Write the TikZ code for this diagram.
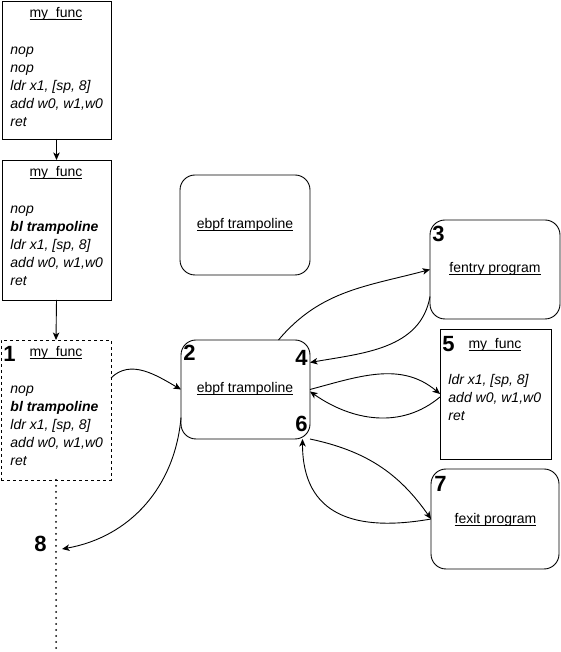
\documentclass[tikz,border=0pt]{standalone}
\usepackage{fontspec}
\setmainfont{Liberation Sans}
\usetikzlibrary{arrows.meta}
\newcommand\myul[1]{\setbox0\hbox{#1}\rlap{\rule[-2.2pt]{\wd0}{0.75pt}}\box0}
\begin{document}
\begin{tikzpicture}[x=1pt,y=1pt,line width=0.9pt,
  sqbox/.style={draw,inner sep=0,outer sep=0},
  rbox/.style={draw,rounded corners=15pt,inner sep=0,outer sep=0},
  txt/.style={font=\fontsize{14}{18}\selectfont,inner sep=0},
  code/.style={font=\fontsize{14}{18}\selectfont\itshape,inner sep=0,align=left,anchor=north west},
  num/.style={font=\fontsize{22}{26}\selectfont\bfseries,inner sep=0},
  arr/.style={-{Stealth[length=7.5pt,width=6.5pt,inset=2pt]}},
  dotline/.style={line width=2pt,line cap=round,dash pattern=on 0pt off 6pt}]
\useasboundingbox (0,0) rectangle (561,652);
% boxes
\node[sqbox,minimum width=109pt,minimum height=138pt] (A) at (56.5,582) {};
\node[sqbox,minimum width=109pt,minimum height=140pt] (B) at (56.5,422) {};
\node[sqbox,dash pattern=on 3pt off 3pt,minimum width=110pt,minimum height=140pt] (C) at (56,242) {};
\node[rbox,minimum width=130pt,minimum height=100pt] (E0) at (245,427) {};
\node[rbox,minimum width=129pt,minimum height=99pt] (E2) at (245.5,262.5) {};
\node[rbox,minimum width=130pt,minimum height=99pt] (F) at (495,382.5) {};
\node[sqbox,minimum width=111pt,minimum height=130pt] (M5) at (495.5,258) {};
\node[rbox,minimum width=128pt,minimum height=100pt] (X) at (495,133) {};
% texts
\node[txt,anchor=base] (tA) at (56,634.5) {\myul{my\_func}};
\node[code] (cA) at (10,610.6) {\strut nop\\nop\\ldr x1, [sp, 8]\\add w0, w1,w0\\ret};
\node[txt,anchor=base] (tB) at (56,475.5) {\myul{my\_func}};
\node[code] (cB) at (10,451.6) {\strut nop\\\textbf{bl trampoline}\\ldr x1, [sp, 8]\\add w0, w1,w0\\ret};
\node[txt,anchor=base] (tC) at (56,295) {\myul{my\_func}};
\node[code] (cC) at (10,271.6) {\strut nop\\\textbf{bl trampoline}\\ldr x1, [sp, 8]\\add w0, w1,w0\\ret};
\node[txt,anchor=base] (tM) at (495,303) {\myul{my\_func}};
\node[code] (cM) at (448,280.6) {\strut ldr x1, [sp, 8]\\add w0, w1,w0\\ret};
\node[txt,anchor=base] (tE0) at (245,423) {\myul{ebpf trampoline}};
\node[txt,anchor=base] (tE2) at (245,259) {\myul{ebpf trampoline}};
\node[txt,anchor=base] (tF) at (495,379) {\myul{fentry program}};
\node[txt,anchor=base] (tX) at (495.5,128) {\myul{fexit program}};
% numbers
\node[num,anchor=base west] (n1) at (3,290) {1};
\node[num,anchor=base west] (n2) at (183,291) {2};
\node[num,anchor=base east] (n4) at (308,286) {4};
\node[num,anchor=base east] (n6) at (308,220) {6};
\node[num,anchor=base west] (n3) at (432,410) {3};
\node[num,anchor=base west] (n5) at (442,300) {5};
\node[num,anchor=base west] (n7) at (434,160) {7};
\node[num,anchor=base west] (n8) at (34,100) {8};
% coordinates
\coordinate (dotend) at (56,0);
\coordinate (p8) at (62,103);
% connectors
\draw[arr] (A.south) -- (B.north);
\draw[arr] (B.south) -- (C.north);
\draw[dotline] (C.south) -- (dotend);
\draw[arr] ([yshift=32pt]C.east) to[out=45,in=150] (E2.west);
\draw[arr] ([yshift=-28pt]E2.west) to[out=-95,in=10] (p8);
\draw[arr] ([xshift=33pt]E2.north) to[out=50,in=195] (F.west);
\draw[arr] ([yshift=-27pt]F.west) to[out=-100,in=10] ([yshift=27pt]E2.east);
\draw[arr] (E2.east) to[out=15,in=140] (M5.west);
\draw[arr] ([yshift=-3pt]M5.west) to[out=-140,in=-35] ([yshift=-2pt]E2.east);
\draw[arr] (E2.south east) to[out=-12,in=125] (X.west);
\draw[arr] (X.west) to[out=190,in=270,looseness=1.3] ([xshift=57pt]E2.south);
\end{tikzpicture}
\end{document}
